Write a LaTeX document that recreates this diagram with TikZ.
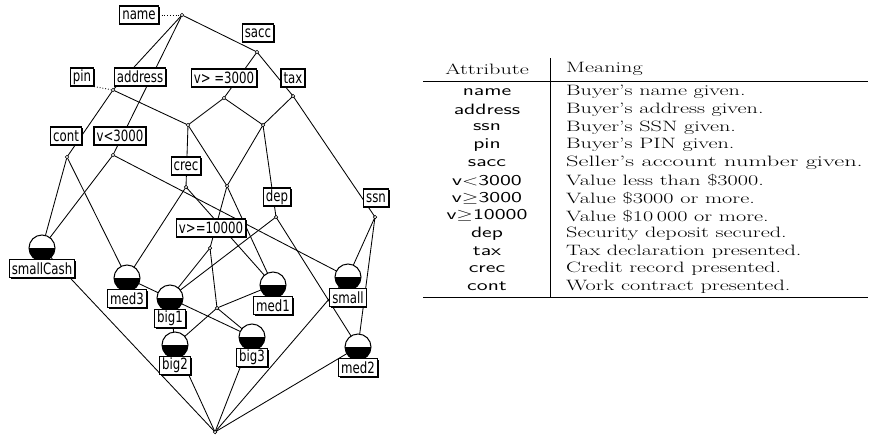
\documentclass[tikz,border=0pt]{standalone}
\usepackage{fontspec}
\usepackage{graphicx}
\newfontfamily\latfont{DejaVu Sans}
\usetikzlibrary{shadows}
\pgfdeclarelayer{edges}
\pgfsetlayers{edges,main}
\begin{document}
\begin{tikzpicture}[x=1pt,y=-1pt,
  cpt/.style={circle,draw=black,fill=white,line width=0.7pt,minimum size=3.5pt,inner sep=0pt},
  obj/.style={circle,draw=black,line width=1pt,fill=white,minimum size=26pt,inner sep=0pt,
     path picture={\fill[black] (path picture bounding box.west) rectangle (path picture bounding box.south east);}},
  tag/.style={draw=black,line width=1.2pt,fill=white,inner xsep=2.5pt,inner ysep=0pt,minimum height=18pt,
     font=\latfont\fontsize{15.5}{15.5}\selectfont,
     general shadow={shadow xshift=1.3pt,shadow yshift=-1.3pt,fill=black}},
  link/.style={line width=0.85pt},
  lead/.style={line width=0.8pt,dotted},
  cell/.style={inner sep=0pt,font=\fontsize{15}{15}\selectfont},
]
\useasboundingbox (0,0) rectangle (873,434);

% concept points of the lattice (no own labels: top, bottom and meets)
\foreach \n/\x/\y in {T/182/15, S/257/52, A/113/90, W/224/98, TX/293/96,
    X1/188/125, X2/263/125, C/67/157, V/113/155, CR/186/187, Y/227/186,
    D/276/217, SS/375/217, V10/210/248, P/217/308, B/215/432}
  \node[cpt] (\n) at (\x,\y) {};

% object concepts
\foreach \n/\x/\y in {smallCash/42/248, med3/127/278, big1/170/298, big2/175/345,
    big3/252/337, med1/273/285, small/348/277, med2/358/347}
  \node[obj] (\n) at (\x,\y) {};

% object labels
\foreach \n/\t in {smallCash/smallCash, med3/med3, big1/big1, big2/big2,
    big3/big3, med1/med1, small/small, med2/med2}
  \node[tag,anchor=north] (l\n) at ([yshift=-11pt]\n.center) {\scalebox{0.76}[1]{\t}};

% attribute labels
\node[tag] (lname) at (139,15) {\scalebox{0.76}[1]{name}};
\node[tag] (lsacc) at (258,33) {\scalebox{0.76}[1]{sacc}};
\node[tag] (lpin) at (82,77) {\scalebox{0.76}[1]{pin}};
\node[tag] (laddress) at (140,77) {\scalebox{0.76}[1]{address}};
\node[tag] (lvge3) at (224,78) {\scalebox{0.76}[1]{v> =3000}};
\node[tag] (ltax) at (293,78) {\scalebox{0.76}[1]{tax}};
\node[tag] (lcont) at (66,136) {\scalebox{0.76}[1]{cont}};
\node[tag] (lvlt3) at (120,136) {\scalebox{0.76}[1]{v<3000}};
\node[tag] (lcrec) at (186,166) {\scalebox{0.76}[1]{crec}};
\node[tag] (ldep) at (277,197) {\scalebox{0.76}[1]{dep}};
\node[tag] (lssn) at (376,198) {\scalebox{0.76}[1]{ssn}};
\node[tag] (lvge10) at (211,228) {\scalebox{0.76}[1]{v>=10000}};

% covering edges, drawn behind points and labels
\begin{pgfonlayer}{edges}
  \foreach \a/\b in {T/A, T/V, T/S, S/W, S/TX, A/C, A/X1, W/X1, W/X2, TX/X2, TX/SS,
      X1/CR, X1/Y, X2/Y, X2/D, C/smallCash, C/med3, V/smallCash, V/small,
      CR/med3, CR/med1, Y/V10, Y/med1, D/big1, D/med2, SS/small, SS/med2,
      V10/P, V10/big1, med1/P, P/big2, P/big3, med3/big3, big1/big2,
      B/smallCash, B/big2, B/big3, B/small, B/med2}
    \draw[link] (\a.center) -- (\b.center);
  \draw[lead] (lname.east) -- (T);
  \draw[lead] (lpin.south east) -- (A);
\end{pgfonlayer}

% attribute table
\node[cell] (hattr) at (487,69) {\scalebox{1.48}[1]{Attribute}};
\node[cell,anchor=west] (hmean) at (566,69) {\scalebox{1.48}[1]{Meaning}};
\foreach \i/\a/\m/\s in {
    0/name/Buyer's name given./1,
    1/address/Buyer's address given./1,
    2/ssn/Buyer's SSN given./1,
    3/pin/Buyer's PIN given./1,
    4/sacc/Seller's account number given./1.1,
    5/v$<$3000/Value less than \$3000./1,
    6/v$\geq$3000/Value \$3000 or more./1,
    7/v$\geq$10000/Value \$10\,000 or more./1,
    8/dep/Security deposit secured./1,
    9/tax/Tax declaration presented./1,
    10/crec/Credit record presented./1,
    11/cont/Work contract presented./1}
{
  \node[cell] (ra\i) at (487,92+17.7*\i) {\scalebox{1.48}[1]{\sffamily\a}};
  \node[cell,anchor=west] (rm\i) at (566,92+17.7*\i) {\scalebox{\fpeval{1.48*\s}}[1]{\m}};
}
\draw[line width=0.9pt] (550,58) -- (550,297);
\draw[line width=0.9pt] (423,81) -- (868,81);
\draw[line width=0.9pt] (423,297) -- (868,297);
\end{tikzpicture}
\end{document}
